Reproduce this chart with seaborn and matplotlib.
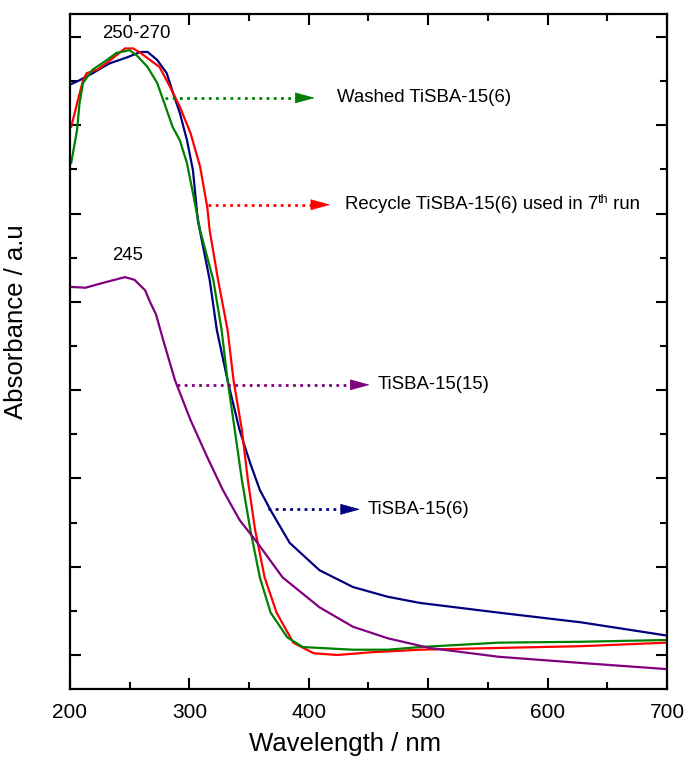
import seaborn as sns
import numpy as np
import pandas as pd
import matplotlib.pyplot as plt
from matplotlib.ticker import MultipleLocator, NullFormatter

# values (absorbance in arbitrary units, 1 unit = one major tick)
wl_blue = [200, 208, 219, 233, 248, 259, 265, 273, 281, 286, 292, 298, 303, 307, 317, 323, 332, 342, 351, 359, 368, 384, 409, 437, 466, 493, 559, 628, 700]
abs_blue = [6.46, 6.51, 6.59, 6.70, 6.77, 6.83, 6.83, 6.74, 6.59, 6.38, 6.14, 5.83, 5.49, 4.93, 4.25, 3.68, 3.11, 2.55, 2.17, 1.87, 1.64, 1.27, 0.96, 0.77, 0.66, 0.59, 0.48, 0.37, 0.22]

wl_red = [201, 206, 211, 214, 223, 234, 246, 253, 259, 267, 275, 284, 292, 301, 309, 315, 317, 324, 332, 337, 344, 349, 355, 363, 373, 387, 404, 424, 451, 493, 559, 628, 700]
abs_red = [5.98, 6.25, 6.51, 6.59, 6.63, 6.74, 6.87, 6.87, 6.82, 6.74, 6.66, 6.43, 6.21, 5.91, 5.53, 5.07, 4.81, 4.25, 3.68, 3.11, 2.55, 1.98, 1.42, 0.88, 0.48, 0.14, 0.02, 0.00, 0.03, 0.06, 0.08, 0.10, 0.14]

wl_green = [201, 206, 208, 211, 219, 231, 239, 250, 256, 265, 273, 278, 286, 292, 298, 303, 309, 320, 327, 332, 338, 344, 351, 359, 368, 382, 395, 409, 437, 466, 493, 559, 628, 700]
abs_green = [5.57, 5.95, 6.25, 6.48, 6.63, 6.74, 6.82, 6.85, 6.79, 6.66, 6.48, 6.29, 5.98, 5.83, 5.57, 5.23, 4.81, 4.25, 3.68, 3.11, 2.55, 1.98, 1.42, 0.88, 0.48, 0.20, 0.09, 0.08, 0.06, 0.06, 0.09, 0.14, 0.15, 0.17]

wl_purple = [200, 213, 229, 246, 254, 263, 267, 272, 278, 288, 301, 315, 328, 342, 357, 378, 409, 437, 466, 501, 559, 628, 700]
abs_purple = [4.17, 4.16, 4.22, 4.28, 4.25, 4.13, 4.00, 3.86, 3.57, 3.11, 2.66, 2.24, 1.87, 1.53, 1.27, 0.88, 0.54, 0.32, 0.19, 0.08, -0.02, -0.09, -0.16]

series_names = ['TiSBA-15(6)', 'Recycle', 'Washed', 'TiSBA-15(15)']
series_colors = ['#000080', '#ff0000', '#008000', '#800080']

label_texts = ['Washed TiSBA-15(6)', 'Recycle TiSBA-15(6) used in 7', 'TiSBA-15(15)', 'TiSBA-15(6)']
label_colors = ['#008000', '#ff0000', '#800080', '#000080']
arrow_start = [(280, 6.31), (316, 5.10), (290, 3.06), (366, 1.65)]
arrow_end = [(405, 6.31), (418, 5.10), (451, 3.06), (443, 1.65)]
text_x = [424, 430, 458, 449]

sns.set_style('ticks')
plt.rcParams['font.family'] = ['Liberation Sans', 'DejaVu Sans']
for k in ['text.color', 'axes.labelcolor', 'xtick.color', 'ytick.color', 'axes.edgecolor']:
    plt.rcParams[k] = 'black'

fig = plt.figure(figsize=(6.9, 7.62), dpi=100)
ax = fig.add_axes([0.1014, 0.0958, 0.8653, 0.8858])

for wl, ab, name, col in zip([wl_blue, wl_red, wl_green, wl_purple],
                             [abs_blue, abs_red, abs_green, abs_purple],
                             series_names, series_colors):
    df = pd.DataFrame({'Wavelength': wl, 'Absorbance': ab})
    sns.lineplot(data=df, x='Wavelength', y='Absorbance', color=col, lw=1.6, ax=ax, sort=False)

# dotted pointer lines with a solid filled head
head = 13  # nm, length of the arrow head
texts = []
for txt, col, s, e, tx in zip(label_texts, label_colors, arrow_start, arrow_end, text_x):
    ax.plot([s[0], e[0] - head], [s[1], e[1]], color=col, lw=2, ls=(0, (1, 1.6)))
    ax.annotate('', xy=e, xytext=(e[0] - head, e[1]),
                arrowprops=dict(arrowstyle='-|>,head_length=1.3,head_width=0.36',
                                lw=0.5, color=col, shrinkA=0, shrinkB=0))
    texts.append(ax.text(tx, s[1], txt, fontsize=13.4, va='center', ha='left'))

# superscript "th" and the rest of the recycle label
sup = ax.annotate('th', xy=(1, 1.12), xycoords=texts[1], fontsize=9, va='top', ha='left')
ax.annotate(' run', xy=(1, 0), xycoords=(sup, texts[1]), fontsize=13.4, va='bottom', ha='left')

ax.text(256, 7.04, '250-270', fontsize=13.4, ha='center', va='center')
ax.text(248, 4.52, '245', fontsize=13.4, ha='center', va='center')

ax.set_xlim(200, 700)
ax.set_ylim(-0.385, 7.26)
ax.xaxis.set_major_locator(MultipleLocator(100))
ax.xaxis.set_minor_locator(MultipleLocator(50))
ax.yaxis.set_major_locator(MultipleLocator(1))
ax.yaxis.set_minor_locator(MultipleLocator(0.5))
ax.yaxis.set_major_formatter(NullFormatter())
ax.tick_params(which='both', direction='in', top=True, right=True, width=1.5)
ax.tick_params(which='major', length=8)
ax.tick_params(which='minor', length=5)
ax.tick_params(axis='x', labelsize=15, pad=10)
for sp in ax.spines.values():
    sp.set_linewidth(1.6)

ax.set_xlabel('Wavelength / nm', fontsize=18.5)
ax.set_ylabel('Absorbance / a.u', fontsize=18.5)
ax.xaxis.set_label_coords(0.46, -0.064)
ax.yaxis.set_label_coords(-0.07, 0.544)

fig.savefig('out.png', dpi=100)
